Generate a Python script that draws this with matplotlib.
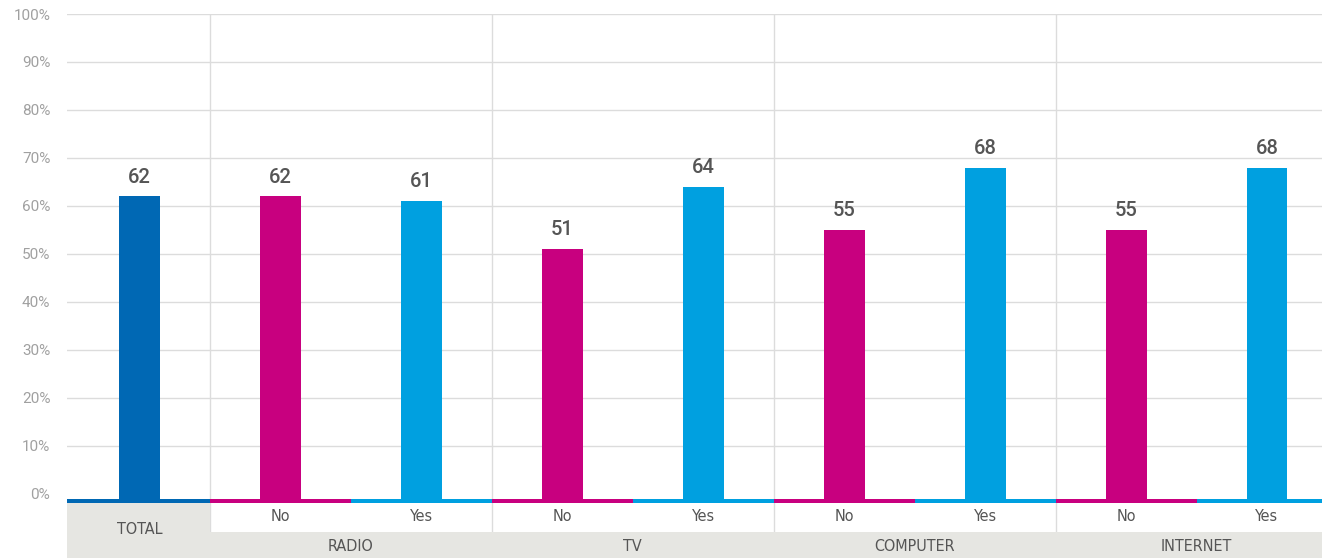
import matplotlib
matplotlib.use("Agg")
import matplotlib.pyplot as plt
from matplotlib.patches import Rectangle

# Share of respondents (%) by media access
groups = ["TOTAL", "RADIO", "TV", "COMPUTER", "INTERNET"]
sub_labels = ["", "No", "Yes", "No", "Yes", "No", "Yes", "No", "Yes"]
values = [62, 62, 61, 51, 64, 55, 68, 55, 68]
kinds = ["total", "no", "yes", "no", "yes", "no", "yes", "no", "yes"]
y_ticks = [0, 10, 20, 30, 40, 50, 60, 70, 80, 90, 100]

palette = {"total": "#0068b4", "no": "#c8007f", "yes": "#00a0e0"}
GRID = "#dcdcdc"
BAND = "#e6e6e2"
TEXT = "#555555"
STRIP = 1.9      # depth of the coloured base strip below zero
ROW = 7.93       # lower edge of the No/Yes row
BOTTOM = -13.36  # lower edge of the group band
X0 = -0.014

fig = plt.figure(figsize=(13.22, 5.58), dpi=100)
ax = fig.add_axes([67 / 1322, 0.0, 1 - 67 / 1322, 544 / 558])
ax.set_xlim(X0, 8.89)
ax.set_ylim(BOTTOM, 100)
for s in ax.spines.values():
    s.set_visible(False)

# horizontal grid
for t in y_ticks[1:]:
    ax.axhline(t, color=GRID, lw=1, zorder=0)

# group separators
for xs in [1, 3, 5, 7]:
    ax.vlines(xs, BOTTOM, 100, color=GRID, lw=1, zorder=1)

x = [i + 0.5 for i in range(len(values))]
colors = [palette[k] for k in kinds]

# coloured base strip under each slot
for i, c in enumerate(colors):
    left = X0 if i == 0 else i
    ax.add_patch(Rectangle((left, -STRIP), i + 1 - left, STRIP - 1.0,
                           color=c, lw=0, zorder=3))

# bars
ax.bar(x, [v + STRIP for v in values], bottom=-STRIP, width=0.29,
       color=colors, zorder=3)

for xi, v in zip(x, values):
    ax.annotate(str(v), (xi, v), xytext=(0, 7), textcoords="offset points",
                ha="center", va="bottom", fontsize=14.5, color=TEXT,
                family="Roboto", weight="medium")

# category label area
lab_kw = dict(ha="center", va="center", fontsize=11.5, color=TEXT,
              family="DejaVu Sans", fontstretch="condensed")
ax.add_patch(Rectangle((X0, BOTTOM), 1 - X0, -BOTTOM - STRIP, color=BAND, lw=0, zorder=2))
ax.add_patch(Rectangle((1, BOTTOM), 7.9, -BOTTOM - ROW, color=BAND, lw=0, zorder=2))
ax.text(0.5, -7.5, groups[0], **lab_kw)
for gi, g in enumerate(groups[1:]):
    ax.text(2 + 2 * gi, -10.9, g, **lab_kw)
for xi, lab in zip(x, sub_labels):
    if lab:
        ax.text(xi, -4.7, lab, **lab_kw)

ax.set_xticks([])
ax.set_yticks(y_ticks)
ax.set_yticklabels([f"{t}%" for t in y_ticks], fontsize=11, color="#a0a0a0",
                   family="Roboto")
ax.tick_params(axis="y", length=0, pad=12)

fig.savefig("out.png", dpi=100)
